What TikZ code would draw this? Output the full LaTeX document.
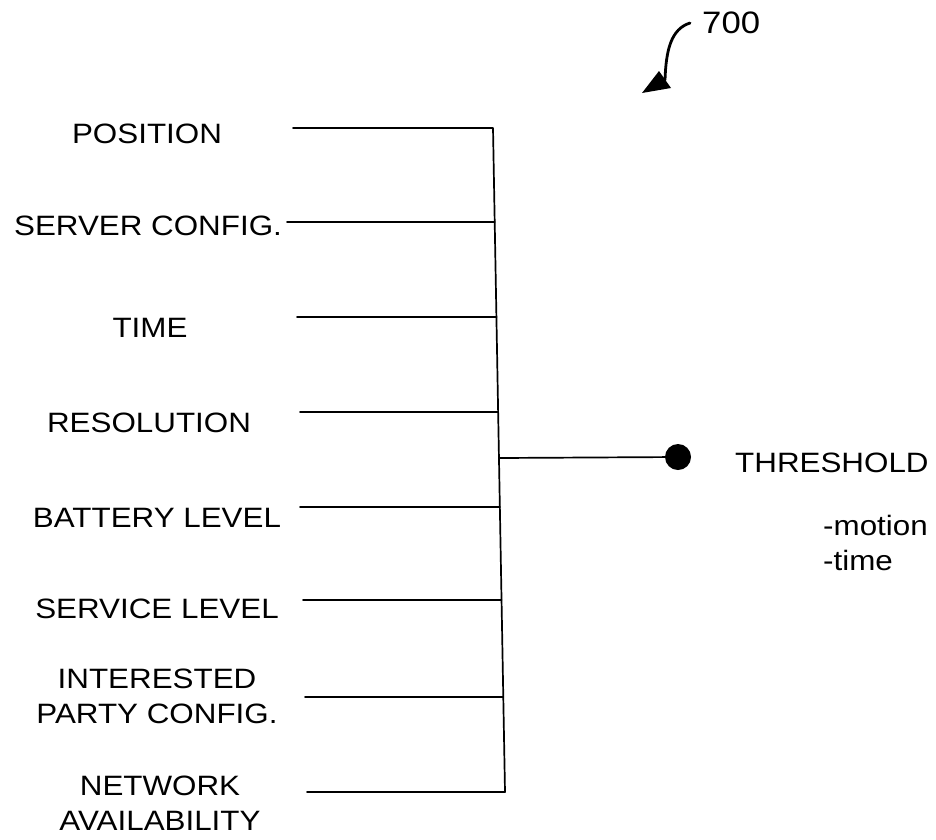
\documentclass[tikz,border=0pt]{standalone}
\usepackage{fontspec}
\setmainfont{Liberation Sans}[FakeStretch=1.12]
\begin{document}
\begin{tikzpicture}[x=1pt,y=-1pt,
  lbl/.style={inner sep=0pt,anchor=base,align=center,font=\fontsize{28}{35}\selectfont},
  sub/.style={inner sep=0pt,anchor=base west,font=\fontsize{28}{35}\selectfont},
  wire/.style={line width=1.7pt,line cap=round,line join=round},
  dotnode/.style={circle,fill=black,inner sep=0pt,minimum size=26pt}]
\useasboundingbox (0,0) rectangle (936,839);
% labels
\node[lbl] (pos) at (147,143) {POSITION};
\node[lbl] (srv) at (148,235) {SERVER CONFIG.};
\node[lbl] (tim) at (150,337) {TIME};
\node[lbl] (res) at (149,432) {RESOLUTION};
\node[lbl] (bat) at (157,527) {BATTERY LEVEL};
\node[lbl] (svc) at (157,618) {SERVICE LEVEL};
\node[lbl] (ipc) at (157,723) {INTERESTED\\PARTY CONFIG.};
\node[lbl] (net) at (160,830) {NETWORK\\AVAILABILITY};
% line starts
\coordinate (s1) at (293,128);
\coordinate (s2) at (287,222);
\coordinate (s3) at (297,317);
\coordinate (s4) at (300,412);
\coordinate (s5) at (300,507);
\coordinate (s6) at (303,600);
\coordinate (s7) at (305,697);
\coordinate (s8) at (307,792);
% bus junctions
\coordinate (j1) at (493,128);
\coordinate (j2) at (494.7,222);
\coordinate (j3) at (496.4,317);
\coordinate (j4) at (498.1,412);
\coordinate (jb) at (499,458);
\coordinate (j5) at (499.9,507);
\coordinate (j6) at (501.5,600);
\coordinate (j7) at (503.3,697);
\coordinate (j8) at (505,792);
\draw[wire] (s1) -- (j1) -- (j8) -- (s8);
\foreach \i in {2,...,7} \draw[wire] (s\i) -- (j\i);
% threshold
\node[dotnode] (dot) at (678,457) {};
\draw[wire] (jb) -- (dot.center);
\node[sub] (thr) at (735,472) {THRESHOLD};
\node[sub] (mot) at (823,535) {-motion};
\node[sub] (tme) at (823,570) {-time};
% reference numeral
\node[sub,font=\fontsize{31}{35}\selectfont] (ref) at (702,33) {700};
\coordinate (tail) at (690,23);
\coordinate (head) at (665,80);
\draw[line width=2.8pt,line cap=round] (tail) .. controls (671,29) and (666,50) .. (head);
\fill (642,93) -- (659,71) -- (671,88) -- cycle;
\end{tikzpicture}
\end{document}
